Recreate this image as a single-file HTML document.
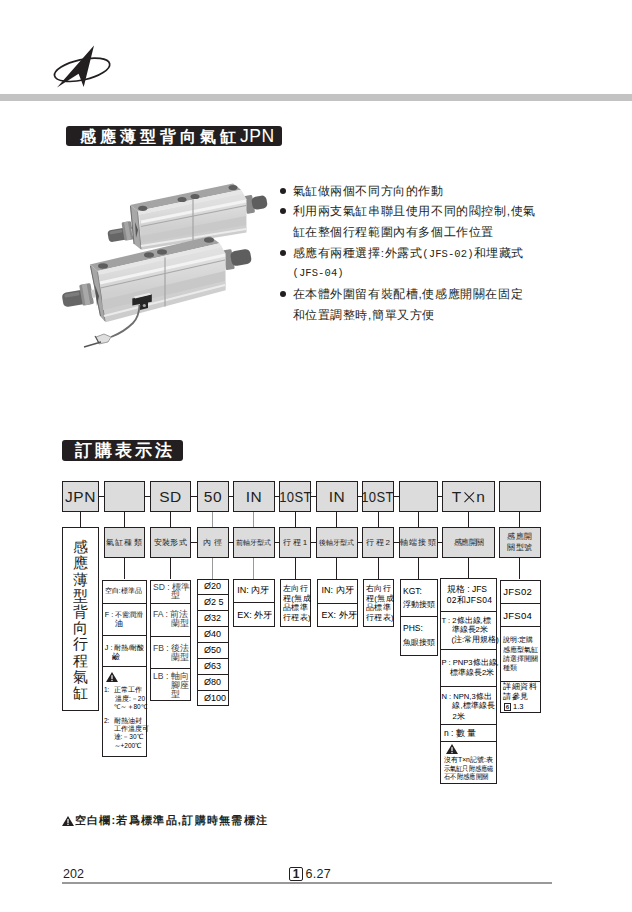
<!DOCTYPE html>
<html><head><meta charset="utf-8">
<style>
html,body{margin:0;padding:0;background:#fff;}
body{width:632px;height:912px;position:relative;overflow:hidden;font-family:"Liberation Sans",sans-serif;color:#231f20;}
.a{position:absolute;}
.bar{left:0;top:94px;width:632px;height:7px;background:#c3c3c3;}
.ttl{background:#231f20;border-radius:3px;color:#fff;font-size:16px;font-weight:bold;line-height:21px;white-space:nowrap;}
.bl{font-size:11.7px;line-height:12px;letter-spacing:0.6px;white-space:nowrap;color:#231f20;}
.m{font-family:"Liberation Mono",monospace;font-size:10.5px;letter-spacing:0.1px;}
.dot{width:6px;height:6px;border-radius:50%;background:#231f20;}
.bx{box-sizing:border-box;border:1.4px solid #231f20;background:#dcdcdc;}
.wb{box-sizing:border-box;border:1.4px solid #231f20;background:#fff;}
.big{font-size:15.5px;letter-spacing:0.5px;text-align:center;line-height:29px;}
.lab{font-size:8px;text-align:center;line-height:30px;color:#1e1e1e;white-space:nowrap;}
.hl{height:1.3px;background:#231f20;}
.vl{width:1.3px;background:#231f20;}
.g{background:#9a9a9a;}
.t{font-size:7px;line-height:9px;white-space:nowrap;color:#333;}
</style></head><body>
<!-- logo -->
<svg class="a" style="left:0;top:0" width="140" height="100" viewBox="0 0 140 100">
  <ellipse cx="82.1" cy="69.8" rx="28.2" ry="10.2" transform="rotate(-12.5 82.1 69.8)" fill="none" stroke="#231f20" stroke-width="1.7"/>
  <path d="M94 45.5 L57 87.5 L78.6 73.7 L83.7 87 Z" fill="#231f20"/>
</svg>
<div class="a bar"></div>
<div class="a ttl" style="left:66px;top:126px;width:216px;height:20px;line-height:20px;"><span style="position:absolute;left:14px;top:0;letter-spacing:4px;">感應薄型背向氣缸<span style="font-size:17.5px;letter-spacing:0.6px;font-weight:normal">JPN</span></span></div>

<!-- product image -->
<svg class="a" style="left:0;top:160px" width="290" height="200" viewBox="0 160 290 200">
<defs>
<linearGradient id="ff" x1="0" y1="0" x2="0.12" y2="1"><stop offset="0" stop-color="#e4e4e4"/><stop offset="0.3" stop-color="#dedede"/><stop offset="0.62" stop-color="#d0d0d0"/><stop offset="1" stop-color="#cbcbcb"/></linearGradient>
</defs>
<!-- top cylinder -->
<g>
 <g transform="rotate(-10 120 234.5)">
  <rect x="108" y="228.5" width="20" height="12" rx="4" fill="#666"/>
  <rect x="110" y="229.8" width="13" height="3" rx="1.5" fill="#7e7e7e"/>
  <rect x="123.5" y="223" width="9.5" height="18.5" rx="1.5" fill="#8c8c8c"/>
  <rect x="126" y="223" width="4" height="18.5" fill="#a6a6a6"/>
  <rect x="132" y="231" width="6" height="7" fill="#c8c8c8"/>
 </g>
 <g transform="rotate(-10 257 203)">
  <rect x="245" y="194" width="8.5" height="18" rx="1.5" fill="#8a8a8a"/>
  <rect x="252" y="196.5" width="15" height="13" rx="4.5" fill="#5e5e5e"/>
 </g>
 <path d="M139 214.5 L243 193 L246.5 199.3 L246.5 232.5 L141.3 249.8 Z" fill="url(#ff)"/>
 <path d="M130 205 L233 183.4 L241 189.8 L138 211 Z" fill="#a4a4a4"/>
 <path d="M138 211 L241 189.8 L243.5 193.5 L139 214.8 Z" fill="#e6e6e6"/>
 <path d="M130 205 L138 211 L141.3 249.8 L134 244 Z" fill="#a8a8a8"/>
 <path d="M130.5 206 L134 244" stroke="#6e6e6e" stroke-width="1"/>
 <path d="M137.5 212 L141 249" stroke="#8a8a8a" stroke-width="1"/>
 <path d="M135 222 L138 230 L136 238 Z" fill="#555"/>
 <path d="M141 222 L246 201" stroke="#f3f3f3" stroke-width="3"/>
 <path d="M141 226.5 L246 205.5" stroke="#a8a8a8" stroke-width="1.2"/>
 <path d="M141 236 L246 216 L246 225 L141 243 Z" fill="#c9c9c9"/>
 <path d="M141 246 L246 229" stroke="#ececec" stroke-width="2"/>
 <path d="M193 197 L193 241" stroke="#a5a5a5" stroke-width="1.2"/>
 <ellipse cx="142.7" cy="208.3" rx="4.5" ry="2.6" fill="#5e5e5e"/>
 <ellipse cx="182" cy="199.5" rx="4.5" ry="2.6" fill="#5e5e5e"/>
 <ellipse cx="195" cy="196.5" rx="4.5" ry="2.6" fill="#5e5e5e"/>
 <ellipse cx="233" cy="187.6" rx="4.5" ry="2.6" fill="#5e5e5e"/>
</g>
<!-- bottom cylinder -->
<g>
 <g transform="rotate(-10 75 298)">
  <rect x="62.5" y="291" width="24" height="14.5" rx="4.5" fill="#666"/>
  <rect x="65" y="292.5" width="15" height="3.5" rx="1.5" fill="#7c7c7c"/>
  <rect x="81.3" y="286" width="11.4" height="21" rx="1.5" fill="#8c8c8c"/>
  <rect x="84" y="286" width="5" height="21" fill="#a8a8a8"/>
  <rect x="92" y="293" width="7" height="8" fill="#cfcfcf"/>
 </g>
 <g transform="rotate(-10 238 258)">
  <rect x="224" y="248" width="9" height="20" rx="1.5" fill="#8a8a8a"/>
  <rect x="231" y="250.5" width="20" height="15" rx="5" fill="#5e5e5e"/>
 </g>
 <path d="M98.5 274.5 L221.5 246.5 L225.7 253.7 L225.7 290.3 L105.6 322.3 Z" fill="url(#ff)"/>
 <path d="M89.8 264.5 L210 236.3 L219.6 243.3 L97.7 270.9 Z" fill="#a2a2a2"/>
 <path d="M97.7 270.9 L219.6 243.3 L222 247 L98.5 275 Z" fill="#e6e6e6"/>
 <path d="M89.8 264.5 L97.7 270.9 L105.6 322.3 L100 316 Z" fill="#a6a6a6"/>
 <path d="M90.5 266 L100.5 316" stroke="#6e6e6e" stroke-width="1"/>
 <path d="M97.5 272 L105 321" stroke="#8a8a8a" stroke-width="1"/>
 <path d="M95 285 L99 296 L97 306 Z" fill="#555"/>
 <path d="M100 283 L225 255" stroke="#f3f3f3" stroke-width="3"/>
 <path d="M100.5 288 L225 260" stroke="#a8a8a8" stroke-width="1.2"/>
 <path d="M102 300 L225 271 L225 281 L103 310 Z" fill="#c8c8c8"/>
 <path d="M104 316 L225 285" stroke="#ebebeb" stroke-width="2"/>
 <path d="M165 257.5 L165 306.5" stroke="#a5a5a5" stroke-width="1.2"/>
 <ellipse cx="103" cy="266" rx="5" ry="2.8" fill="#5e5e5e"/>
 <ellipse cx="149" cy="255" rx="5" ry="2.8" fill="#5e5e5e"/>
 <ellipse cx="162" cy="252" rx="5" ry="2.8" fill="#5e5e5e"/>
 <ellipse cx="209" cy="240" rx="5" ry="2.8" fill="#5e5e5e"/>
 <path d="M132.3 298.5 L151.8 294.2 L151.8 301.8 L132.3 305.6 Z" fill="#262626"/>
 <path d="M134 296.5 L149 293 L151.5 294.5 L135 298.5 Z" fill="#e8e8e8"/>
 <path d="M140 303 L148 301 L148 308 L140 310 Z" fill="#262626"/>
 <circle cx="144.3" cy="305.5" r="1.6" fill="#aaa"/>
 <path d="M139.5 305 Q139 317 133 323 Q124 332 111 337" fill="none" stroke="#6e6e6e" stroke-width="1.8"/>
 <path d="M96 337 L104 334 L111 337 L108 342 L99 344 Z" fill="#dedede" stroke="#8a8a8a" stroke-width="0.8"/>
 <path d="M95 336 L99 343" stroke="#555" stroke-width="1.2"/>
 <path d="M84 347 L101 342" stroke="#555" stroke-width="1.4"/>
</g>
</svg>

<!-- bullets -->
<div class="a dot" style="left:280px;top:188px"></div>
<div class="a bl" style="left:292.5px;top:185px">氣缸做兩個不同方向的作動</div>
<div class="a dot" style="left:280px;top:208px"></div>
<div class="a bl" style="left:292.5px;top:205px">利用兩支氣缸串聯且使用不同的閥控制,使氣</div>
<div class="a bl" style="left:292.5px;top:226px">缸在整個行程範圍內有多個工作位置</div>
<div class="a dot" style="left:280px;top:250px"></div>
<div class="a bl" style="left:292.5px;top:247px">感應有兩種選擇:外露式<span class="m">(JFS-02)</span>和埋藏式</div>
<div class="a bl" style="left:292.5px;top:266px"><span class="m">(JFS-04)</span></div>
<div class="a dot" style="left:280px;top:291px"></div>
<div class="a bl" style="left:292.5px;top:288px">在本體外圍留有裝配槽,使感應開關在固定</div>
<div class="a bl" style="left:292.5px;top:309px">和位置調整時,簡單又方便</div>

<div class="a ttl" style="left:62px;top:440px;width:121px;height:20.5px;line-height:22px;font-size:17px;"><span style="position:absolute;left:12.5px;top:0;letter-spacing:3px;">訂購表示法</span></div>

<div id="diag"><div class="a bx big" style="left:62.0px;top:481.0px;width:37.0px;height:30.6px;">JPN</div>
<div class="a bx big" style="left:104.0px;top:481.0px;width:41.0px;height:30.6px;"></div>
<div class="a bx big" style="left:150.0px;top:481.0px;width:41.0px;height:30.6px;">SD</div>
<div class="a bx big" style="left:196.9px;top:481.0px;width:32.1px;height:30.6px;">50</div>
<div class="a bx big" style="left:232.8px;top:481.0px;width:42.2px;height:30.6px;">IN</div>
<div class="a bx big" style="left:279.4px;top:481.0px;width:31.6px;height:30.6px;"><span style="display:inline-block;transform:scaleX(0.84);margin:0 -5px">10ST</span></div>
<div class="a bx big" style="left:315.9px;top:481.0px;width:42.1px;height:30.6px;">IN</div>
<div class="a bx big" style="left:362.0px;top:481.0px;width:32.0px;height:30.6px;"><span style="display:inline-block;transform:scaleX(0.84);margin:0 -5px">10ST</span></div>
<div class="a bx big" style="left:399.0px;top:481.0px;width:39.0px;height:30.6px;"></div>
<div class="a bx big" style="left:442.0px;top:481.0px;width:53.0px;height:30.6px;">T<svg width="10.5" height="10.5" viewBox="0 0 11 11" style="margin:0 1.5px 0 2.5px;vertical-align:-0.5px"><path d="M0.5 0.5 L10.5 10.5 M10.5 0.5 L0.5 10.5" stroke="#231f20" stroke-width="1.1"/></svg>n</div>
<div class="a bx big" style="left:499.0px;top:481.0px;width:41.5px;height:30.6px;"></div>
<div class="a hl" style="left:99.0px;top:496px;width:5.0px"></div>
<div class="a hl" style="left:145.0px;top:496px;width:5.0px"></div>
<div class="a hl" style="left:191.0px;top:496px;width:5.9px"></div>
<div class="a hl" style="left:229.0px;top:496px;width:3.8px"></div>
<div class="a hl" style="left:275.0px;top:496px;width:4.4px"></div>
<div class="a hl" style="left:311.0px;top:496px;width:4.9px"></div>
<div class="a hl" style="left:358.0px;top:496px;width:4.0px"></div>
<div class="a hl" style="left:394.0px;top:496px;width:5.0px"></div>
<div class="a hl" style="left:438.0px;top:496px;width:4.0px"></div>
<div class="a vl" style="left:80px;top:511.6px;height:15.6px"></div>
<div class="a vl" style="left:124px;top:511.6px;height:15.6px"></div>
<div class="a vl" style="left:170px;top:511.6px;height:15.6px"></div>
<div class="a vl g" style="left:212px;top:511.6px;height:15.6px"></div>
<div class="a vl g" style="left:253px;top:511.6px;height:15.6px"></div>
<div class="a vl" style="left:295px;top:511.6px;height:15.6px"></div>
<div class="a vl" style="left:336px;top:511.6px;height:15.6px"></div>
<div class="a vl" style="left:378px;top:511.6px;height:15.6px"></div>
<div class="a vl" style="left:418px;top:511.6px;height:15.6px"></div>
<div class="a vl" style="left:468px;top:511.6px;height:15.6px"></div>
<div class="a vl" style="left:519px;top:511.6px;height:15.6px"></div>
<div class="a wb" style="left:62.0px;top:527.2px;width:37.0px;height:184.3px;"><div style="position:absolute;left:0;right:0;top:11px;text-align:center;font-size:14.5px;line-height:16.2px;color:#231f20">感<br>應<br>薄<br>型<br>背<br>向<br>行<br>程<br>氣<br>缸</div></div>
<div class="a bx lab" style="left:104.0px;top:527.2px;width:41.0px;height:31.0px;letter-spacing:1.1px;">氣缸種類</div>
<div class="a bx lab" style="left:150.0px;top:527.2px;width:41.0px;height:31.0px;letter-spacing:0.4px;">安裝形式</div>
<div class="a bx lab" style="left:196.9px;top:527.2px;width:32.1px;height:31.0px;letter-spacing:0.3px;">內 徑</div>
<div class="a bx lab" style="left:232.8px;top:527.2px;width:42.2px;height:31.0px;letter-spacing:0px;font-size:7px;">前軸牙型式</div>
<div class="a bx lab" style="left:279.4px;top:527.2px;width:31.6px;height:31.0px;letter-spacing:-0.3px;">行 程 1</div>
<div class="a bx lab" style="left:315.9px;top:527.2px;width:42.1px;height:31.0px;letter-spacing:0px;font-size:7px;">後軸牙型式</div>
<div class="a bx lab" style="left:362.0px;top:527.2px;width:32.0px;height:31.0px;letter-spacing:-0.3px;">行 程 2</div>
<div class="a bx lab" style="left:399.0px;top:527.2px;width:39.0px;height:31.0px;letter-spacing:1.2px;">軸端接頭</div>
<div class="a bx lab" style="left:442.0px;top:527.2px;width:53.0px;height:31.0px;letter-spacing:-0.5px;">感應開關</div>
<div class="a bx lab" style="left:499.0px;top:527.2px;width:41.5px;height:31.0px;letter-spacing:0.2px;line-height:11px;padding-top:3px;">感應開<br>關型號</div>
<div class="a hl" style="left:191.0px;top:542px;width:5.9px"></div>
<div class="a hl" style="left:229.0px;top:542px;width:3.8px"></div>
<div class="a hl" style="left:275.0px;top:542px;width:4.4px"></div>
<div class="a hl" style="left:311.0px;top:542px;width:4.9px"></div>
<div class="a hl" style="left:358.0px;top:542px;width:4.0px"></div>
<div class="a hl" style="left:394.0px;top:542px;width:5.0px"></div>
<div class="a hl" style="left:438.0px;top:542px;width:4.0px"></div>
<div class="a vl" style="left:124px;top:558.2px;height:20.8px"></div>
<div class="a vl" style="left:170px;top:558.2px;height:20.8px"></div>
<div class="a vl g" style="left:212px;top:558.2px;height:20.8px"></div>
<div class="a vl g" style="left:253px;top:558.2px;height:20.8px"></div>
<div class="a vl" style="left:295px;top:558.2px;height:20.8px"></div>
<div class="a vl" style="left:336px;top:558.2px;height:20.8px"></div>
<div class="a vl" style="left:378px;top:558.2px;height:20.8px"></div>
<div class="a vl" style="left:418px;top:558.2px;height:20.8px"></div>
<div class="a vl" style="left:468px;top:558.2px;height:20.8px"></div>
<div class="a vl" style="left:519px;top:558.2px;height:20.8px"></div></div><!--/diag-->
<!--opts--><div class="a wb" style="left:102.0px;top:579.5px;width:44.5px;height:177.8px"></div>
<div class="a hl" style="left:102.0px;top:603px;width:44.5px"></div>
<div class="a hl" style="left:102.0px;top:635px;width:44.5px"></div>
<div class="a hl" style="left:102.0px;top:666px;width:44.5px"></div>
<div class="a" style="left:104.8px;top:588.0px;font-size:6.5px;line-height:6.5px;color:#000;white-space:nowrap;">空白:標準品</div>
<div class="a" style="left:104.8px;top:611.2px;font-size:7.2px;line-height:7.2px;color:#000;white-space:nowrap;">F : 不需潤滑</div>
<div class="a" style="left:115px;top:620.0px;font-size:7.6px;line-height:7.6px;color:#000;white-space:nowrap;">油</div>
<div class="a" style="left:104.8px;top:644.3px;font-size:7.2px;line-height:7.2px;color:#000;white-space:nowrap;">J : 耐熱/耐酸</div>
<div class="a" style="left:112px;top:652.5px;font-size:7.5px;line-height:7.5px;color:#000;white-space:nowrap;">鹼</div>
<div class="a" style="left:106px;top:672px"><svg width="12" height="10" viewBox="0 0 12 10" style="display:block"><path d="M6 0 L12 10 L0 10 Z" fill="#231f20"/><rect x="5.4" y="3.2" width="1.2" height="4" fill="#fff"/><rect x="5.4" y="8" width="1.2" height="1.1" fill="#fff"/></svg></div>
<div class="a" style="left:104px;top:687.2px;font-size:6.5px;line-height:6.5px;color:#000;white-space:nowrap;">1:</div>
<div class="a" style="left:113.5px;top:687.2px;font-size:6.5px;line-height:6.5px;color:#000;white-space:nowrap;">正常工作</div>
<div class="a" style="left:115px;top:695.6px;font-size:6.5px;line-height:6.5px;color:#000;white-space:nowrap;">溫度:－20</div>
<div class="a" style="left:113.5px;top:704.0px;font-size:6.5px;line-height:6.5px;color:#000;white-space:nowrap;">℃～＋80℃</div>
<div class="a" style="left:104px;top:718.0px;font-size:6.5px;line-height:6.5px;color:#000;white-space:nowrap;">2:</div>
<div class="a" style="left:113.5px;top:718.0px;font-size:6.5px;line-height:6.5px;color:#000;white-space:nowrap;">耐熱油封</div>
<div class="a" style="left:113.5px;top:726.4px;font-size:6.5px;line-height:6.5px;color:#000;white-space:nowrap;">工作溫度可</div>
<div class="a" style="left:113.5px;top:733.8px;font-size:6.5px;line-height:6.5px;color:#000;white-space:nowrap;">達:－30℃</div>
<div class="a" style="left:113.5px;top:742.5px;font-size:6.5px;line-height:6.5px;color:#000;white-space:nowrap;">～+200℃</div>
<div class="a wb" style="left:150.3px;top:579.5px;width:40.3px;height:121.8px"></div>
<div class="a hl" style="left:150.3px;top:603px;width:40.3px"></div>
<div class="a hl" style="left:150.3px;top:636px;width:40.3px"></div>
<div class="a hl" style="left:150.3px;top:668px;width:40.3px"></div>
<div class="a" style="left:153px;top:583.0px;font-size:8.6px;line-height:8.6px;color:#444;white-space:nowrap;">SD : 標準</div>
<div class="a" style="left:170.5px;top:591.4px;font-size:8.6px;line-height:8.6px;color:#444;white-space:nowrap;">型</div>
<div class="a" style="left:153px;top:610.1px;font-size:8.6px;line-height:8.6px;color:#444;white-space:nowrap;">FA : 前法</div>
<div class="a" style="left:170.5px;top:618.5px;font-size:8.6px;line-height:8.6px;color:#444;white-space:nowrap;">蘭型</div>
<div class="a" style="left:153px;top:644.1px;font-size:8.6px;line-height:8.6px;color:#444;white-space:nowrap;">FB : 後法</div>
<div class="a" style="left:170.5px;top:652.6px;font-size:8.6px;line-height:8.6px;color:#444;white-space:nowrap;">蘭型</div>
<div class="a" style="left:153px;top:672.2px;font-size:8.6px;line-height:8.6px;color:#444;white-space:nowrap;">LB : 軸向</div>
<div class="a" style="left:170.5px;top:681.2px;font-size:8.6px;line-height:8.6px;color:#444;white-space:nowrap;">腳座</div>
<div class="a" style="left:170.5px;top:690.2px;font-size:8.6px;line-height:8.6px;color:#444;white-space:nowrap;">型</div>
<div class="a wb" style="left:197.2px;top:578.7px;width:31.4px;height:127.8px"></div>
<div class="a hl" style="left:197.2px;top:594px;width:31.4px"></div>
<div class="a hl" style="left:197.2px;top:610px;width:31.4px"></div>
<div class="a hl" style="left:197.2px;top:626px;width:31.4px"></div>
<div class="a hl" style="left:197.2px;top:642px;width:31.4px"></div>
<div class="a hl" style="left:197.2px;top:658px;width:31.4px"></div>
<div class="a hl" style="left:197.2px;top:674px;width:31.4px"></div>
<div class="a hl" style="left:197.2px;top:690px;width:31.4px"></div>
<div class="a" style="left:204px;top:582.2px;font-size:9px;line-height:9px;color:#000;white-space:nowrap;">Ø20</div>
<div class="a" style="left:204px;top:598.2px;font-size:9px;line-height:9px;color:#000;white-space:nowrap;">Ø2 5</div>
<div class="a" style="left:204px;top:614.2px;font-size:9px;line-height:9px;color:#000;white-space:nowrap;">Ø32</div>
<div class="a" style="left:204px;top:630.2px;font-size:9px;line-height:9px;color:#000;white-space:nowrap;">Ø40</div>
<div class="a" style="left:204px;top:646.2px;font-size:9px;line-height:9px;color:#000;white-space:nowrap;">Ø50</div>
<div class="a" style="left:204px;top:662.2px;font-size:9px;line-height:9px;color:#000;white-space:nowrap;">Ø63</div>
<div class="a" style="left:204px;top:678.2px;font-size:9px;line-height:9px;color:#000;white-space:nowrap;">Ø80</div>
<div class="a" style="left:204px;top:694.2px;font-size:9px;line-height:9px;color:#000;white-space:nowrap;">Ø100</div>
<div class="a wb" style="left:233.3px;top:578.7px;width:41.4px;height:48.7px"></div>
<div class="a hl" style="left:233.3px;top:602px;width:41.4px"></div>
<div class="a" style="left:237.3px;top:585.5px;font-size:9px;line-height:9px;color:#000;white-space:nowrap;">IN: 內牙</div>
<div class="a" style="left:237.3px;top:610.5px;font-size:9px;line-height:9px;color:#000;white-space:nowrap;">EX: 外牙</div>
<div class="a wb" style="left:279.6px;top:578.7px;width:31.0px;height:48.7px"></div>
<div class="a" style="left:282.9px;top:585.4px;font-size:7.6px;line-height:7.6px;color:#000;white-space:nowrap;letter-spacing:0.4px">左向行</div>
<div class="a" style="left:282.9px;top:594.8px;font-size:7.6px;line-height:7.6px;color:#000;white-space:nowrap;letter-spacing:0.4px">程(無成</div>
<div class="a" style="left:282.9px;top:604.2px;font-size:7.6px;line-height:7.6px;color:#000;white-space:nowrap;letter-spacing:0.4px">品標準</div>
<div class="a" style="left:282.9px;top:613.6px;font-size:7.6px;line-height:7.6px;color:#000;white-space:nowrap;letter-spacing:0.4px">行程表)</div>
<div class="a wb" style="left:316.5px;top:579.4px;width:41.2px;height:48.0px"></div>
<div class="a hl" style="left:316.5px;top:603px;width:41.2px"></div>
<div class="a" style="left:321.5px;top:586.0px;font-size:9px;line-height:9px;color:#000;white-space:nowrap;">IN: 內牙</div>
<div class="a" style="left:321.5px;top:611.0px;font-size:9px;line-height:9px;color:#000;white-space:nowrap;">EX: 外牙</div>
<div class="a wb" style="left:362.6px;top:579.4px;width:31.0px;height:48.0px"></div>
<div class="a" style="left:365.9px;top:585.4px;font-size:7.6px;line-height:7.6px;color:#000;white-space:nowrap;letter-spacing:0.4px">右向行</div>
<div class="a" style="left:365.9px;top:594.8px;font-size:7.6px;line-height:7.6px;color:#000;white-space:nowrap;letter-spacing:0.4px">程(無成</div>
<div class="a" style="left:365.9px;top:604.2px;font-size:7.6px;line-height:7.6px;color:#000;white-space:nowrap;letter-spacing:0.4px">品標準</div>
<div class="a" style="left:365.9px;top:613.6px;font-size:7.6px;line-height:7.6px;color:#000;white-space:nowrap;letter-spacing:0.4px">行程表)</div>
<div class="a wb" style="left:399.6px;top:579.4px;width:38.3px;height:76.8px"></div>
<div class="a hl" style="left:399.6px;top:616px;width:38.3px"></div>
<div class="a" style="left:403px;top:586.6px;font-size:8.5px;line-height:8.5px;color:#000;white-space:nowrap;">KGT:</div>
<div class="a" style="left:403px;top:600.8px;font-size:8px;line-height:8px;color:#000;white-space:nowrap;">浮動接頭</div>
<div class="a" style="left:403px;top:624.2px;font-size:8.5px;line-height:8.5px;color:#000;white-space:nowrap;">PHS:</div>
<div class="a" style="left:403px;top:639.0px;font-size:8px;line-height:8px;color:#000;white-space:nowrap;">魚眼接頭</div>
<div class="a wb" style="left:439.9px;top:578.4px;width:57.1px;height:205.6px"></div>
<div class="a hl" style="left:439.9px;top:611px;width:57.1px"></div>
<div class="a hl" style="left:439.9px;top:649px;width:57.1px"></div>
<div class="a hl" style="left:439.9px;top:686px;width:57.1px"></div>
<div class="a hl" style="left:439.9px;top:724px;width:57.1px"></div>
<div class="a hl" style="left:439.9px;top:741px;width:57.1px"></div>
<div class="a" style="left:446.8px;top:585.1px;font-size:8.5px;line-height:8.5px;color:#000;white-space:nowrap;">規格 : JFS</div>
<div class="a" style="left:446.8px;top:596.2px;font-size:8.5px;line-height:8.5px;color:#000;white-space:nowrap;letter-spacing:0.3px">02和JFS04</div>
<div class="a" style="left:441.5px;top:617.2px;font-size:7.6px;line-height:7.6px;color:#000;white-space:nowrap;">T : 2條出線,標</div>
<div class="a" style="left:451.5px;top:626.2px;font-size:7.6px;line-height:7.6px;color:#000;white-space:nowrap;">準線長2米</div>
<div class="a" style="left:451.5px;top:636.4px;font-size:7.6px;line-height:7.6px;color:#000;white-space:nowrap;">(注:常用規格)</div>
<div class="a" style="left:441.5px;top:659.2px;font-size:7.6px;line-height:7.6px;color:#000;white-space:nowrap;">P : PNP3條出線,</div>
<div class="a" style="left:449.9px;top:669.1px;font-size:7.6px;line-height:7.6px;color:#000;white-space:nowrap;">標準線長2米</div>
<div class="a" style="left:441.5px;top:692.6px;font-size:7.6px;line-height:7.6px;color:#000;white-space:nowrap;">N : NPN,3條出</div>
<div class="a" style="left:452.4px;top:702.4px;font-size:7.6px;line-height:7.6px;color:#000;white-space:nowrap;">線,標準線長</div>
<div class="a" style="left:452.4px;top:712.6px;font-size:7.6px;line-height:7.6px;color:#000;white-space:nowrap;">2米</div>
<div class="a" style="left:444px;top:728.8px;font-size:8.5px;line-height:8.5px;color:#000;white-space:nowrap;">n : 數 量</div>
<div class="a" style="left:445.6px;top:744.3px"><svg width="12" height="10" viewBox="0 0 12 10" style="display:block"><path d="M6 0 L12 10 L0 10 Z" fill="#231f20"/><rect x="5.4" y="3.2" width="1.2" height="4" fill="#fff"/><rect x="5.4" y="8" width="1.2" height="1.1" fill="#fff"/></svg></div>
<div class="a" style="left:444px;top:757.1px;font-size:6.8px;line-height:6.8px;color:#000;white-space:nowrap;transform:scaleX(1.0);transform-origin:0 0">沒有T×n記號:表</div>
<div class="a" style="left:444px;top:766.2px;font-size:6.5px;line-height:6.5px;color:#000;white-space:nowrap;transform:scaleX(0.88);transform-origin:0 0">示氣缸只附感應磁</div>
<div class="a" style="left:444px;top:774.2px;font-size:6.5px;line-height:6.5px;color:#000;white-space:nowrap;transform:scaleX(0.9);transform-origin:0 0">石不附感應開關</div>
<div class="a wb" style="left:500.3px;top:579.7px;width:40.3px;height:133.3px"></div>
<div class="a hl" style="left:500.3px;top:603px;width:40.3px"></div>
<div class="a hl" style="left:500.3px;top:626px;width:40.3px"></div>
<div class="a hl" style="left:500.3px;top:681px;width:40.3px"></div>
<div class="a" style="left:503.2px;top:586.6px;font-size:9.5px;line-height:9.5px;color:#000;white-space:nowrap;letter-spacing:0.3px">JFS02</div>
<div class="a" style="left:503.2px;top:610.5px;font-size:9.5px;line-height:9.5px;color:#000;white-space:nowrap;letter-spacing:0.3px">JFS04</div>
<div class="a" style="left:503.2px;top:635.5px;font-size:7px;line-height:7px;color:#000;white-space:nowrap;">說明:定購</div>
<div class="a" style="left:503.2px;top:645.5px;font-size:7px;line-height:7px;color:#000;white-space:nowrap;">感應型氣缸</div>
<div class="a" style="left:503.2px;top:654.5px;font-size:7px;line-height:7px;color:#000;white-space:nowrap;">請選擇開關</div>
<div class="a" style="left:503.2px;top:663.8px;font-size:7px;line-height:7px;color:#000;white-space:nowrap;">種類</div>
<div class="a" style="left:503.2px;top:683.1px;font-size:8px;line-height:8px;color:#000;white-space:nowrap;letter-spacing:0.6px">詳細資料</div>
<div class="a" style="left:503.2px;top:693.0px;font-size:8px;line-height:8px;color:#000;white-space:nowrap;letter-spacing:0.6px">請參見</div>
<div class="a" style="left:503.7px;top:702.5px;width:7.5px;height:8px;box-sizing:border-box;border:1px solid #231f20;font-size:6px;line-height:6px;text-align:center;font-weight:bold">6</div>
<div class="a" style="left:513px;top:703.0px;font-size:7.5px;line-height:7.5px;color:#000;white-space:nowrap;">1.3</div><!--/opts-->

<svg class="a" style="left:62px;top:816px" width="12" height="10" viewBox="0 0 12 10"><path d="M6 0 L12 10 L0 10 Z" fill="#231f20"/><rect x="5.4" y="3" width="1.2" height="4.2" fill="#fff"/><rect x="5.4" y="7.8" width="1.2" height="1.2" fill="#fff"/></svg>
<div class="a" style="left:74.5px;top:814px;font-size:11px;line-height:13px;font-weight:bold;white-space:nowrap;letter-spacing:1.3px;">空白欄:若爲標準品,訂購時無需標注</div>
<div class="a" style="left:63px;top:867px;font-size:12.5px;">202</div>
<div class="a" style="left:289px;top:867px;width:14px;height:13.5px;box-sizing:border-box;border:1.2px solid #231f20;border-radius:2px;font-size:12px;font-weight:bold;text-align:center;line-height:12.5px;">1</div>
<div class="a" style="left:305.5px;top:867px;font-size:12.5px;letter-spacing:0.3px;">6.27</div>
<div class="a" style="left:62px;top:882px;width:490px;height:2px;background:#999;"></div>
</body></html>
